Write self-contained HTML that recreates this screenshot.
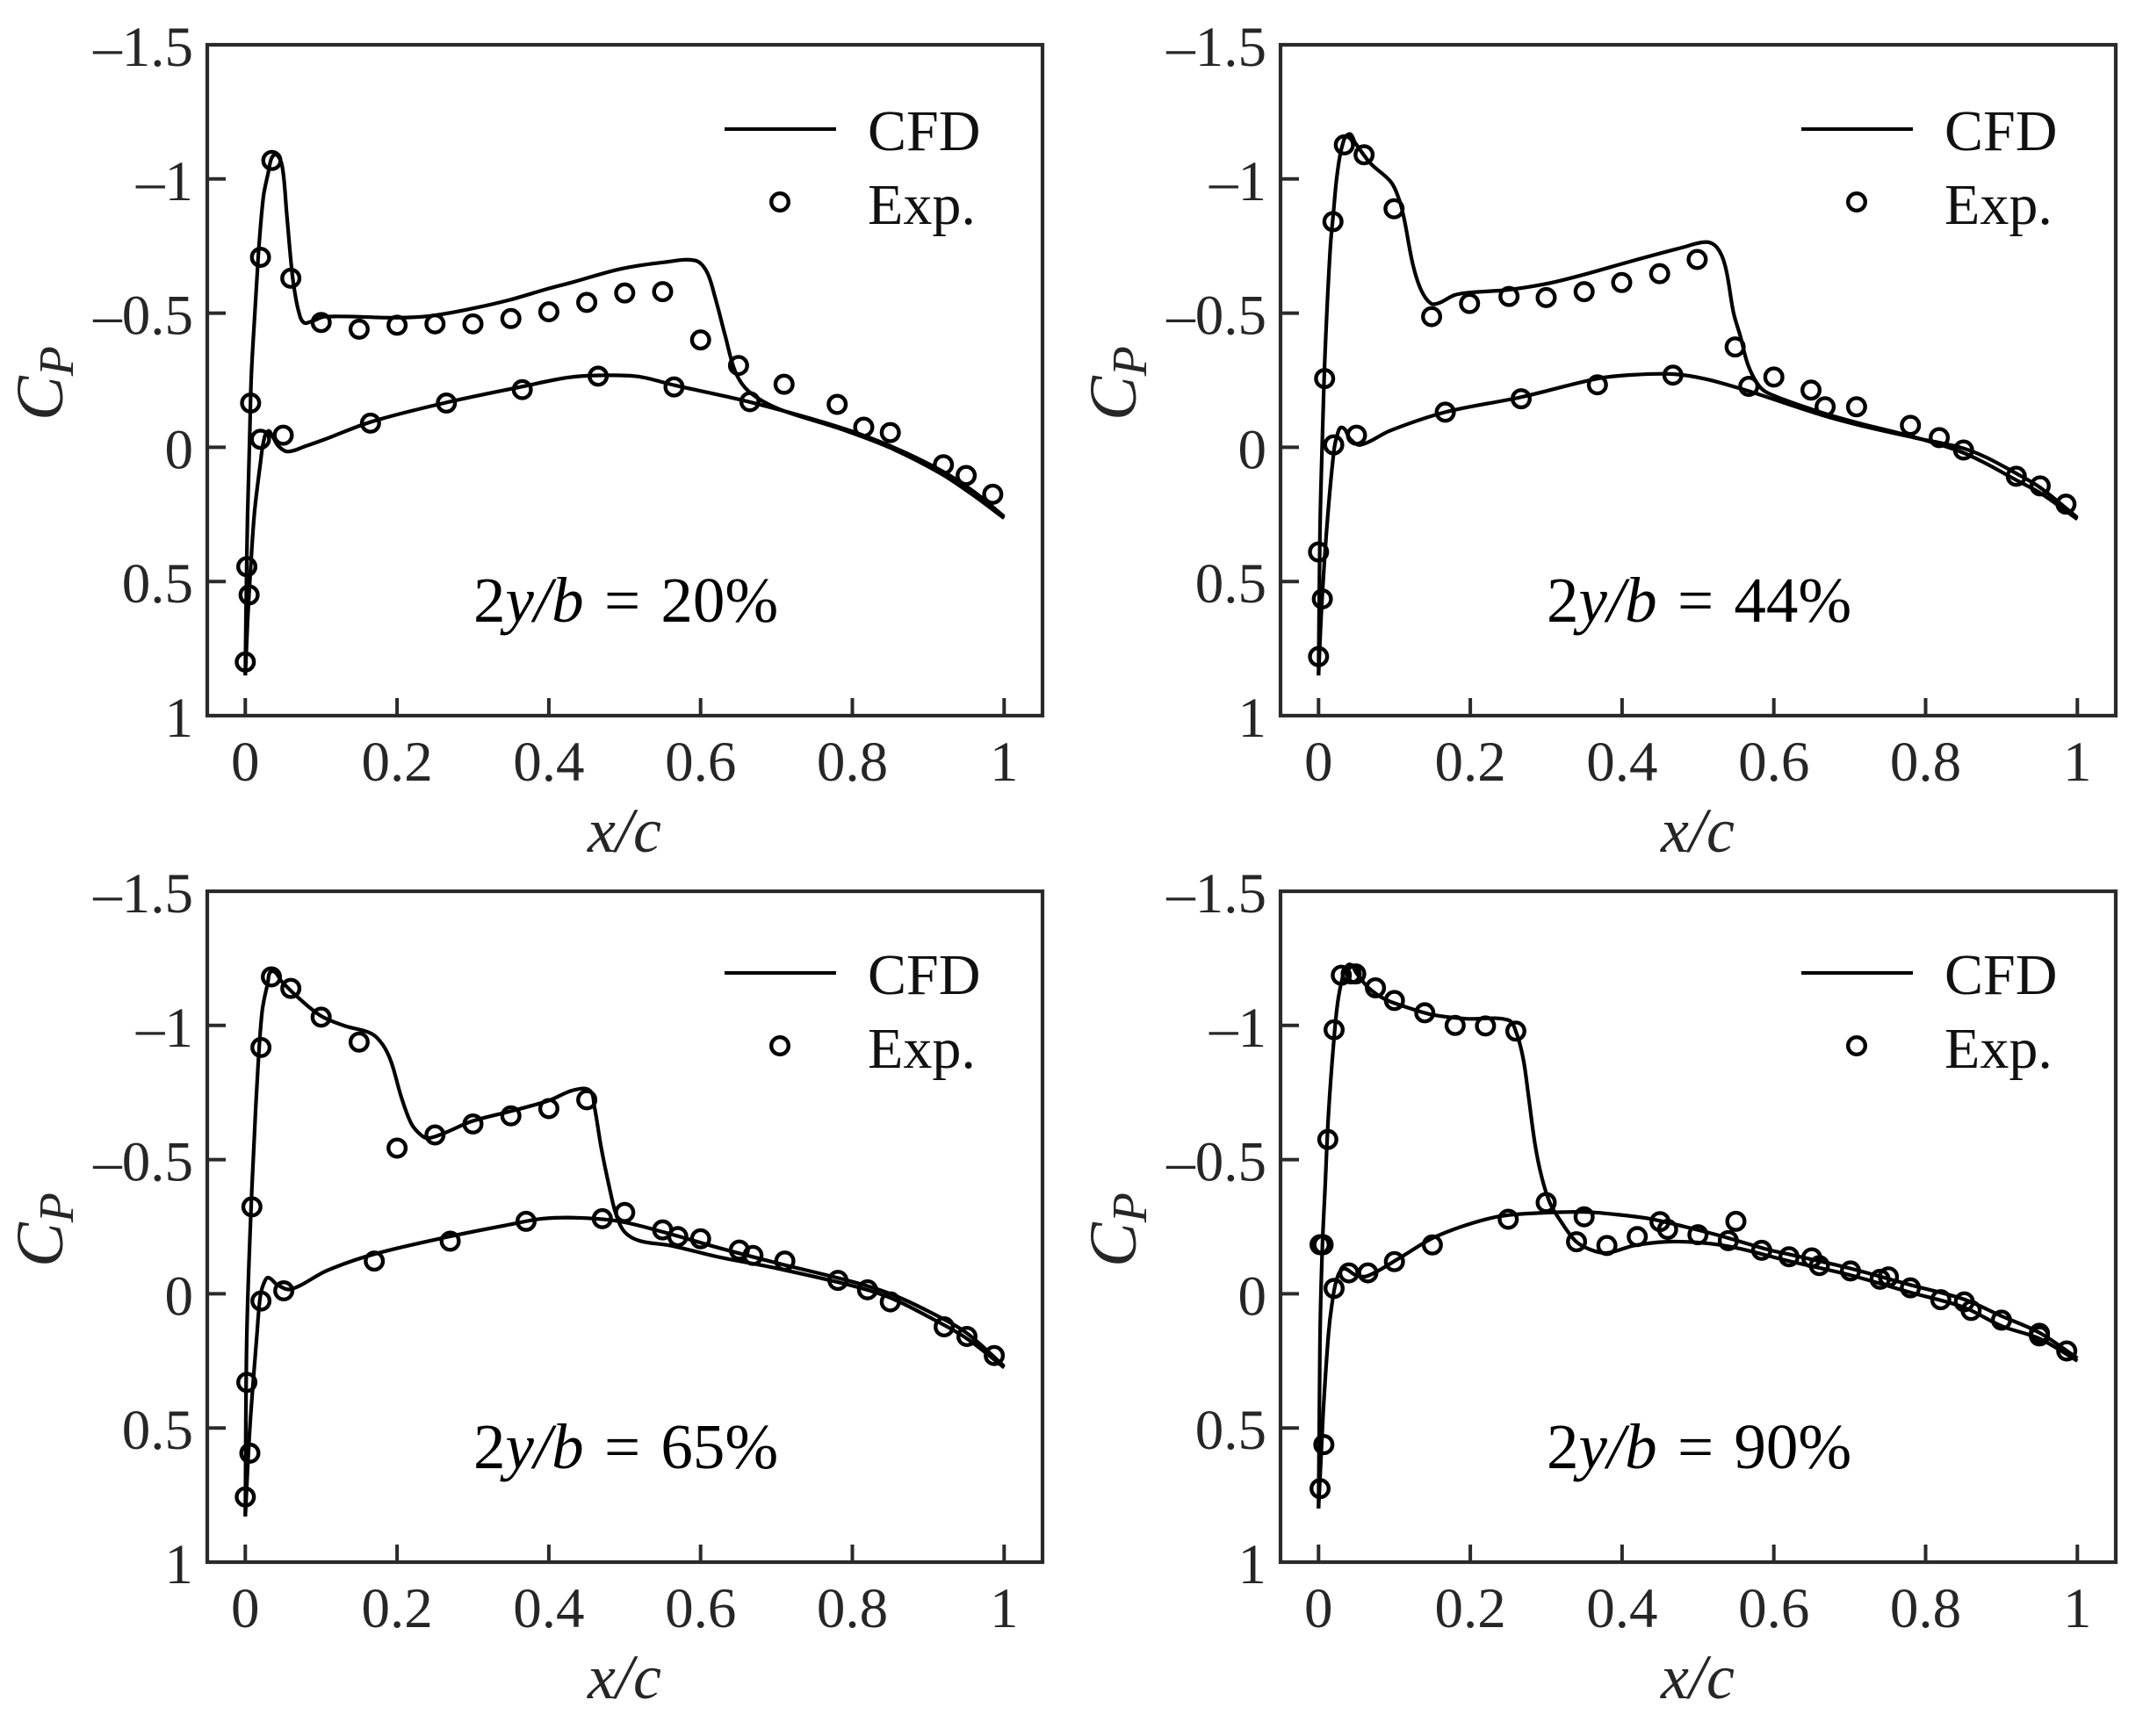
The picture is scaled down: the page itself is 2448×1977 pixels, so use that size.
<!DOCTYPE html>
<html lang="en">
<head>
<meta charset="utf-8">
<title>Pressure coefficient distributions: CFD vs experiment</title>
<style>
html,body{margin:0;padding:0;background:#fff;width:2448px;height:1977px;overflow:hidden}
svg{display:block}
text{font-family:"Liberation Serif","Times New Roman",serif}
</style>
</head>
<body>
<svg id="chart" xmlns="http://www.w3.org/2000/svg" width="2448" height="1977" viewBox="0 0 2448 1977"></svg>
<script>
const xTickValues=[0,0.2,0.4,0.6,0.8,1];
const xTickLabels=['0','0.2','0.4','0.6','0.8','1'];
const yTickValues=[-1.5,-1,-0.5,0,0.5,1];
const yTickLabels=['–1.5','–1','–0.5','0','0.5','1'];
const panelLabels=['20%','44%','65%','90%'];

const p1UpperX=[0,0.001,0.003,0.0057,0.008,0.013,0.016,0.018,0.024,0.03,0.035,0.0415,0.0488,0.0546,0.0604,0.064,0.07,0.077,0.088,0.105,0.2,0.245,0.297,0.348,0.4,0.4285,0.495,0.553,0.593,0.608,0.619,0.6325,0.646,0.664,0.703,0.783,0.85,0.916,0.96,1];
const p1UpperCp=[0.85,0.6,0.25,-0.03,-0.27,-0.52,-0.66,-0.75,-0.937,-1.02,-1.08,-1.09,-1.045,-0.87,-0.685,-0.6,-0.51,-0.465,-0.47,-0.487,-0.483,-0.49,-0.516,-0.549,-0.592,-0.613,-0.665,-0.69,-0.696,-0.655,-0.56,-0.415,-0.28,-0.207,-0.143,-0.07,0.002,0.097,0.18,0.264];
const p1LowerX=[0,0.003,0.007,0.0122,0.02,0.024,0.03,0.036,0.0435,0.056,0.08,0.105,0.167,0.265,0.366,0.425,0.467,0.517,0.566,0.666,0.783,0.85,0.916,0.96,1];
const p1LowerCp=[0.85,0.65,0.45,0.24,0.057,-0.02,-0.06,-0.04,-0.005,0.016,-0.005,-0.03,-0.096,-0.167,-0.227,-0.26,-0.268,-0.264,-0.231,-0.168,-0.075,-0.005,0.085,0.165,0.258];
const p1ExpX=[0,0.005,0.002,0.007,0.02,0.035,0.06,0.1,0.15,0.2,0.25,0.3,0.35,0.4,0.45,0.5,0.55,0.6,0.65,0.71,0.78,0.815,0.85,0.92,0.95,0.985,0.02,0.05,0.165,0.265,0.365,0.465,0.565,0.665];
const p1ExpCp=[0.8,0.55,0.445,-0.165,-0.708,-1.069,-0.63,-0.465,-0.44,-0.455,-0.46,-0.46,-0.48,-0.505,-0.54,-0.575,-0.58,-0.4,-0.305,-0.235,-0.16,-0.075,-0.055,0.065,0.105,0.175,-0.03,-0.045,-0.09,-0.165,-0.215,-0.265,-0.225,-0.17];

const p2UpperX=[0,0.002,0.005,0.0087,0.0154,0.0198,0.0243,0.0309,0.04,0.0486,0.0685,0.095,0.106,0.113,0.124,0.135,0.148,0.159,0.179,0.197,0.25,0.303,0.3476,0.414,0.48,0.511,0.525,0.536,0.547,0.556,0.5665,0.5826,0.603,0.6635,0.712,0.785,0.845,0.878,0.918,0.951,1];
const p2UpperCp=[0.85,0.296,-0.03,-0.358,-0.74,-0.88,-1.012,-1.12,-1.167,-1.133,-1.058,-0.99,-0.925,-0.849,-0.685,-0.587,-0.536,-0.538,-0.567,-0.576,-0.587,-0.611,-0.642,-0.695,-0.745,-0.765,-0.745,-0.675,-0.5,-0.413,-0.303,-0.222,-0.189,-0.129,-0.09,-0.038,0.015,0.058,0.12,0.17,0.268];
const p2LowerX=[0,0.004,0.011,0.0198,0.0243,0.031,0.042,0.055,0.095,0.167,0.267,0.3675,0.414,0.467,0.511,0.5665,0.5826,0.6635,0.712,0.785,0.845,0.878,0.918,0.951,1];
const p2LowerCp=[0.85,0.6,0.296,0.024,-0.042,-0.074,-0.03,-0.009,-0.063,-0.131,-0.187,-0.256,-0.27,-0.273,-0.254,-0.21,-0.195,-0.12,-0.083,-0.036,0,0.035,0.095,0.15,0.262];
const p2ExpX=[0,0.005,0,0.008,0.019,0.034,0.06,0.0995,0.149,0.199,0.251,0.3,0.35,0.3995,0.4495,0.499,0.549,0.6,0.649,0.6676,0.709,0.78,0.818,0.85,0.9195,0.951,0.985,0.02,0.05,0.167,0.267,0.3675,0.467,0.567];
const p2ExpCp=[0.78,0.565,0.39,-0.256,-0.841,-1.127,-1.09,-0.889,-0.487,-0.536,-0.562,-0.558,-0.58,-0.614,-0.647,-0.7,-0.374,-0.262,-0.213,-0.151,-0.151,-0.082,-0.036,0.01,0.108,0.144,0.212,-0.009,-0.045,-0.131,-0.181,-0.233,-0.269,-0.227];

const p3UpperX=[0,0.002,0.0087,0.0153,0.022,0.0295,0.0353,0.0485,0.0684,0.0994,0.1304,0.166,0.1814,0.1925,0.2058,0.219,0.2323,0.2413,0.2633,0.2987,0.352,0.4,0.4315,0.4537,0.46,0.469,0.48,0.4887,0.5,0.52,0.56,0.6255,0.7,0.8,0.85,0.9,0.95,1];
const p3UpperCp=[0.83,0.153,-0.394,-0.774,-1.048,-1.156,-1.202,-1.162,-1.107,-1.036,-0.999,-0.97,-0.927,-0.862,-0.731,-0.633,-0.59,-0.58,-0.6,-0.643,-0.682,-0.72,-0.758,-0.758,-0.698,-0.545,-0.394,-0.295,-0.23,-0.197,-0.18,-0.136,-0.095,-0.03,0.015,0.085,0.165,0.275];
const p3LowerX=[0,0.006,0.0153,0.0197,0.025,0.0305,0.042,0.06,0.108,0.17,0.27,0.352,0.392,0.44,0.4935,0.551,0.6255,0.7,0.8,0.85,0.9,0.95,1];
const p3LowerCp=[0.83,0.5,0.153,0.011,-0.043,-0.06,-0.034,-0.017,-0.087,-0.148,-0.214,-0.26,-0.28,-0.283,-0.27,-0.23,-0.17,-0.115,-0.045,0,0.065,0.145,0.27];
const p3ExpX=[0,0.006,0.002,0.0087,0.0206,0.0344,0.06,0.1,0.15,0.2,0.25,0.3,0.35,0.4,0.45,0.5,0.55,0.57,0.6,0.651,0.669,0.711,0.781,0.82,0.85,0.921,0.951,0.987,0.0206,0.0507,0.17,0.27,0.37,0.4705];
const p3ExpCp=[0.757,0.594,0.33,-0.324,-0.918,-1.181,-1.138,-1.031,-0.938,-0.543,-0.592,-0.633,-0.663,-0.69,-0.723,-0.303,-0.238,-0.213,-0.205,-0.163,-0.143,-0.122,-0.05,-0.015,0.03,0.123,0.159,0.23,0.027,-0.011,-0.122,-0.196,-0.27,-0.28];

const p4UpperX=[0,0.002,0.005,0.0086,0.013,0.02,0.026,0.035,0.042,0.05,0.066,0.088,0.115,0.15,0.1946,0.25,0.261,0.27,0.2765,0.2853,0.294,0.305,0.3186,0.3386,0.358,0.38,0.416,0.46,0.5047,0.549,0.62,0.7,0.78,0.85,0.9,0.95,1];
const p4UpperCp=[0.8,0.153,-0.174,-0.394,-0.665,-0.938,-1.1,-1.21,-1.227,-1.195,-1.14,-1.097,-1.069,-1.04,-1.025,-1.02,-0.97,-0.872,-0.741,-0.557,-0.436,-0.338,-0.273,-0.197,-0.165,-0.152,-0.18,-0.194,-0.19,-0.172,-0.122,-0.07,-0.005,0.05,0.12,0.167,0.25];
const p4LowerX=[0,0.006,0.013,0.0174,0.024,0.033,0.048,0.064,0.106,0.15,0.1946,0.239,0.283,0.35,0.394,0.438,0.4825,0.527,0.593,0.62,0.7,0.78,0.85,0.9,0.95,1];
const p4LowerCp=[0.8,0.45,0.153,0.044,-0.054,-0.093,-0.071,-0.066,-0.132,-0.207,-0.256,-0.289,-0.3,-0.305,-0.295,-0.279,-0.25,-0.218,-0.164,-0.147,-0.095,-0.033,0.02,0.083,0.145,0.24];
const p4ExpX=[0.002,0.007,0.002,0.006,0.0122,0.0205,0.03,0.043,0.049,0.075,0.1,0.14,0.18,0.22,0.26,0.3,0.34,0.38,0.42,0.46,0.5,0.54,0.584,0.62,0.65,0.66,0.701,0.74,0.751,0.78,0.82,0.851,0.86,0.9,0.95,0.95,0.986,0.35,0.45,0.55,0.0205,0.04,0.065,0.1,0.15,0.25];
const p4ExpCp=[0.726,0.562,-0.183,-0.183,-0.575,-0.984,-1.187,-1.192,-1.192,-1.14,-1.093,-1.047,-1,-0.998,-0.979,-0.34,-0.194,-0.18,-0.213,-0.24,-0.22,-0.198,-0.162,-0.138,-0.134,-0.105,-0.085,-0.054,-0.063,-0.022,0.022,0.03,0.062,0.098,0.147,0.157,0.213,-0.287,-0.269,-0.27,-0.02,-0.078,-0.078,-0.12,-0.182,-0.278];

const svg=document.getElementById('chart');
const NS='http://www.w3.org/2000/svg';
const AXIS='#2a2a2a';

function make(tag,attrs,parent){
  const node=document.createElementNS(NS,tag);
  for(const k in attrs){node.setAttribute(k,attrs[k]);}
  parent.appendChild(node);
  return node;
}
function smoothPath(pts){
  const dirs=pts.map(function(p,i){
    const a=pts[Math.max(0,i-1)],b=pts[Math.min(pts.length-1,i+1)];
    const dx=b[0]-a[0],dy=b[1]-a[1],len=Math.hypot(dx,dy)||1;
    return [dx/len,dy/len];
  });
  let d='M'+pts[0][0].toFixed(2)+' '+pts[0][1].toFixed(2);
  for(let i=0;i<pts.length-1;i++){
    const p=pts[i],q=pts[i+1];
    const s=Math.hypot(q[0]-p[0],q[1]-p[1])/3;
    d+=' C'+(p[0]+dirs[i][0]*s).toFixed(2)+' '+(p[1]+dirs[i][1]*s).toFixed(2)+' '+
       (q[0]-dirs[i+1][0]*s).toFixed(2)+' '+(q[1]-dirs[i+1][1]*s).toFixed(2)+' '+
       q[0].toFixed(2)+' '+q[1].toFixed(2);
  }
  return d;
}
function drawCurve(parent,xs,cps,sx,sy,name){
  const pts=xs.map(function(x,i){return [sx(x),sy(cps[i])];});
  const path=make('path',{d:smoothPath(pts),fill:'none',stroke:'#000','stroke-width':4.2,'stroke-linejoin':'round','stroke-linecap':'butt'},parent);
  
  
}
function drawPanel(index,left,top,upX,upCp,loX,loCp,expX,expCp){
  const width=951,height=764;
  const x0=left+43.3,xUnit=864,y0=top+458.4,yUnit=305.6;
  const sx=function(v){return x0+xUnit*v;};
  const sy=function(v){return y0+yUnit*v;};
  const n=index+1;
  const legendX=left+(index%2===1?4:0);
  const legendY=top-(index>1?3:0);
  const g=make('g',{},svg);
  
  

  const ticks=make('g',{stroke:AXIS,'stroke-width':4},g);
  
  
  xTickValues.forEach(function(v,i){
    const t=make('line',{x1:sx(v),x2:sx(v),y1:top+height,y2:top+height-20},ticks);
    
    
    const lab=make('text',{x:sx(v),y:top+height+74,'text-anchor':'middle','font-size':65,fill:'#262626',stroke:'none'},g);
    lab.textContent=xTickLabels[i];
    
    
  });
  yTickValues.forEach(function(v,i){
    const t=make('line',{x1:left,x2:left+21,y1:sy(v),y2:sy(v)},ticks);
    
    
    const lab=make('text',{x:left-16,y:sy(v)+24,'text-anchor':'end','font-size':65,fill:'#262626'},g);
    lab.textContent=yTickLabels[i];
    
    
  });

  drawCurve(g,upX,upCp,sx,sy,'cfd-upper-curve-'+n);
  drawCurve(g,loX,loCp,sx,sy,'cfd-lower-curve-'+n);

  const marks=make('g',{fill:'none',stroke:'#000','stroke-width':4.4},g);
  
  
  expX.forEach(function(x,i){
    const c=make('circle',{cx:sx(x),cy:sy(expCp[i]),r:9.8},marks);
    
    
  });

  const frame=make('rect',{x:left,y:top,width:width,height:height,fill:'none',stroke:AXIS,'stroke-width':4.2},g);
  
  

  const xt=make('text',{x:left+475,y:top+height+155,'text-anchor':'middle','font-size':72,'font-style':'italic',fill:'#262626'},g);
  xt.textContent='x/c';
  
  

  const yt=make('text',{transform:'translate('+(left-165)+' '+(top+428)+') rotate(-90)',fill:'#262626'},g);
  
  
  const ytC=make('tspan',{'font-size':76,'font-style':'italic'},yt);
  ytC.textContent='C';
  const ytP=make('tspan',{'font-size':56,'font-style':'italic',dy:12},yt);
  ytP.textContent='P';

  const legend=make('g',{},g);
  
  
  const legLine=make('line',{x1:legendX+589,x2:legendX+716,y1:legendY+96,y2:legendY+96,stroke:'#000','stroke-width':4},legend);
  
  
  const legCfd=make('text',{x:legendX+752,y:legendY+120,'font-size':66,fill:'#111'},legend);
  legCfd.textContent='CFD';
  
  
  const legMark=make('circle',{cx:legendX+652,cy:legendY+179,r:9.8,fill:'none',stroke:'#000','stroke-width':4.4},legend);
  
  
  const legExp=make('text',{x:legendX+752,y:legendY+204,'font-size':66,fill:'#111'},legend);
  legExp.textContent='Exp.';
  
  

  const note=make('text',{x:left+303,y:top+657,'font-size':73,fill:'#000','word-spacing':'5px'},g);
  
  
  const a=make('tspan',{},note);
  a.textContent='2';
  const b=make('tspan',{'font-style':'italic'},note);
  b.textContent='y/b';
  const c=make('tspan',{},note);
  c.textContent=' = '+panelLabels[index];
}
drawPanel(0,236,51,p1UpperX,p1UpperCp,p1LowerX,p1LowerCp,p1ExpX,p1ExpCp);
drawPanel(1,1458,51,p2UpperX,p2UpperCp,p2LowerX,p2LowerCp,p2ExpX,p2ExpCp);
drawPanel(2,236,1015,p3UpperX,p3UpperCp,p3LowerX,p3LowerCp,p3ExpX,p3ExpCp);
drawPanel(3,1458,1015,p4UpperX,p4UpperCp,p4LowerX,p4LowerCp,p4ExpX,p4ExpCp);
</script>
</body>
</html>
